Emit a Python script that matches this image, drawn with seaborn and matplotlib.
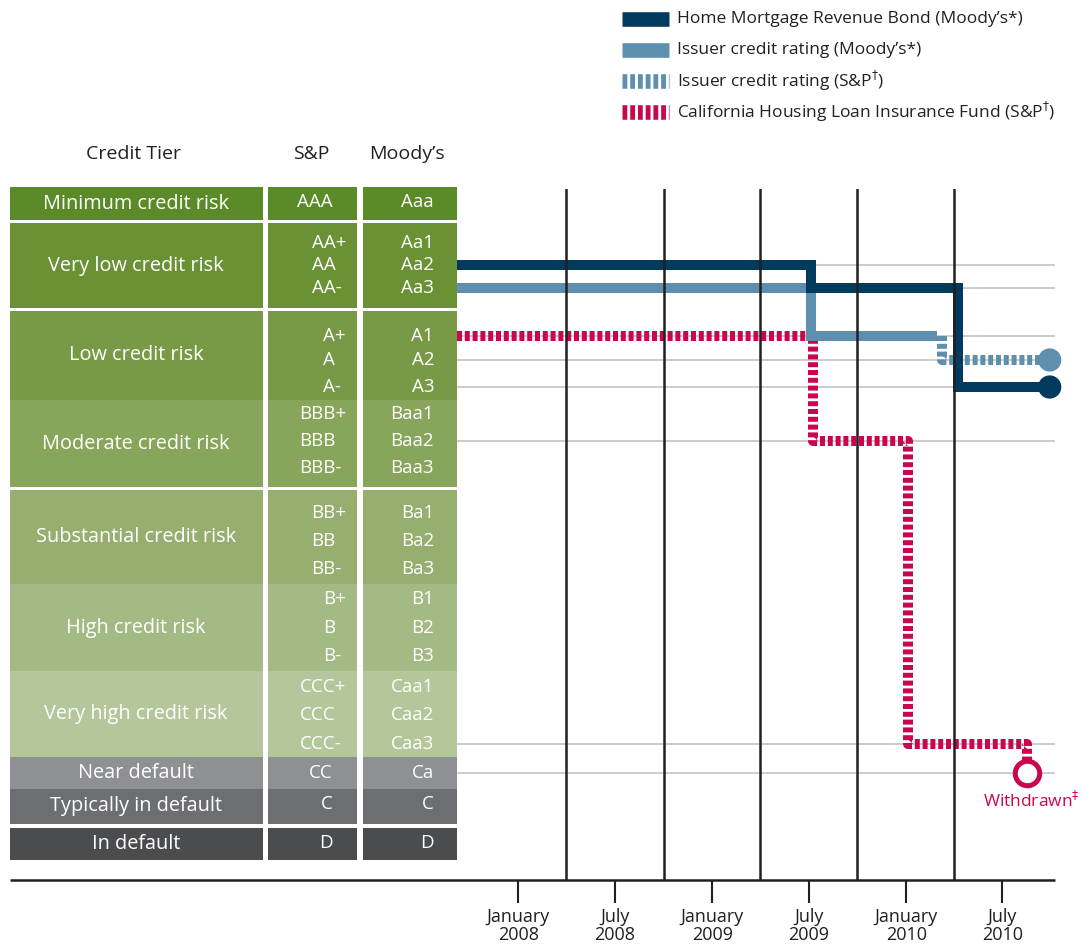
import matplotlib.pyplot as plt
import matplotlib.dates as mdates
import matplotlib.ticker as mticker
import pandas as pd
import seaborn as sns

# credit tiers and the notches of each agency inside them
TIERS = ["Minimum credit risk", "Very low credit risk", "Low credit risk",
         "Moderate credit risk", "Substantial credit risk", "High credit risk",
         "Very high credit risk", "Near default", "Typically in default", "In default"]
SP = [["AAA"], ["AA+", "AA", "AA-"], ["A+", "A", "A-"], ["BBB+", "BBB", "BBB-"],
      ["BB+", "BB", "BB-"], ["B+", "B", "B-"], ["CCC+", "CCC", "CCC-"],
      ["CC"], ["C"], ["D"]]
MOODYS = [["Aaa"], ["Aa1", "Aa2", "Aa3"], ["A1", "A2", "A3"], ["Baa1", "Baa2", "Baa3"],
          ["Ba1", "Ba2", "Ba3"], ["B1", "B2", "B3"], ["Caa1", "Caa2", "Caa3"],
          ["Ca"], ["C"], ["D"]]

# rating histories (date the rating took effect, rating)
HMRB_DATES = ["2007-09-08", "2009-07-06", "2010-04-08", "2010-09-28"]
HMRB_RATINGS = ["Aa2", "Aa3", "A3", "A3"]
ISSUER_MOODYS_DATES = ["2007-09-08", "2009-07-06", "2010-02-28"]
ISSUER_MOODYS_RATINGS = ["Aa3", "A1", "A1"]
ISSUER_SP_DATES = ["2010-03-09", "2010-03-09", "2010-09-28"]
ISSUER_SP_RATINGS = ["A+", "A", "A"]
CHLIF_DATES = ["2007-09-08", "2009-07-09", "2010-01-04", "2010-08-16", "2010-08-16"]
CHLIF_RATINGS = ["A+", "BBB", "CCC-", "CCC-", "CC"]

# quarter separators drawn across the timeline
QUARTER_LINES = ["2008-04-01", "2008-10-01", "2009-04-01", "2009-10-01", "2010-04-01"]

LEGEND_LABELS = ["Home Mortgage Revenue Bond (Moody’s*)",
                 "Issuer credit rating (Moody’s*)",
                 "Issuer credit rating (S&P$^{\\dagger}$)",
                 "California Housing Loan Insurance Fund (S&P$^{\\dagger}$)"]

# ---- layout (figure pixels) ----
TIER_ROWS = [(187, 220), (223, 308), (311, 400), (400, 487), (490, 584),
             (584, 671), (671, 757), (757, 789), (789, 824), (828, 860)]
NOTCH_Y = [[202], [243, 265, 288], [336, 360, 387], [414, 441, 468],
           [513, 541, 569], [599, 628, 656], [687, 715, 744], [773], [804], [843]]
TIER_COLORS = ["#5B8A29", "#6A9234", "#789A47", "#87A55B", "#96AE6E",
               "#A4BA84", "#B4C79A", "#8F9094", "#6D6E72", "#4B4C4E"]
NAVY, STEEL, CRIMSON, INK = "#003A5D", "#5E8FAE", "#C8074F", "#231F20"

rating_y = {}
for sp_group, m_group, ys in zip(SP, MOODYS, NOTCH_Y):
    for s, m, y in zip(sp_group, m_group, ys):
        rating_y[s] = y
        rating_y[m] = y

frames = []
for name, dates, ratings in [("hmrb", HMRB_DATES, HMRB_RATINGS),
                             ("issuer_moodys", ISSUER_MOODYS_DATES, ISSUER_MOODYS_RATINGS),
                             ("issuer_sp", ISSUER_SP_DATES, ISSUER_SP_RATINGS),
                             ("chlif", CHLIF_DATES, CHLIF_RATINGS)]:
    frames.append(pd.DataFrame({"series": name, "date": pd.to_datetime(dates),
                                "rating": ratings}))
df = pd.concat(frames, ignore_index=True)
df["y"] = df["rating"].map(rating_y)

sns.set_style("white")
plt.rcParams["font.family"] = ["Open Sans", "DejaVu Sans"]

fig = plt.figure(figsize=(10.9, 9.49), dpi=100)
bg = fig.add_axes([0, 0, 1, 1])
bg.set_xlim(0, 1090)
bg.set_ylim(949, 0)
bg.axis("off")

# ---- rating table ----
cols = [(10, 263), (268, 357), (363, 457)]
r = fig.canvas.get_renderer()
for tier, sp_group, m_group, (top, bot), ys, c in zip(
        TIERS, SP, MOODYS, TIER_ROWS, NOTCH_Y, TIER_COLORS):
    for x0, x1 in cols:
        bg.add_patch(plt.Rectangle((x0, top), x1 - x0, bot - top, color=c, lw=0))
    bg.text(136, (top + bot) / 2, tier, ha="center", va="center",
            color="white", fontsize=14.3)
    for lab, y in zip(m_group, ys):
        bg.text(434, y, lab, ha="right", va="center", color="white", fontsize=13.5)
    if len(sp_group) == 1:
        bg.text(333, ys[0], sp_group[0], ha="right", va="center",
                color="white", fontsize=13.5)
    else:
        first = bg.text(346, ys[0], sp_group[0], ha="right", va="center",
                        color="white", fontsize=13.5)
        left = first.get_window_extent(r).x0
        first.set_ha("left")
        first.set_x(left)
        for lab, y in zip(sp_group[1:], ys[1:]):
            bg.text(left, y, lab, ha="left", va="center", color="white", fontsize=13.5)

for x, head in [(133, "Credit Tier"), (311, "S&P"), (407, "Moody’s")]:
    bg.text(x, 154, head, ha="center", va="center", color=INK, fontsize=14)

# baseline under the whole graphic
bg.plot([10, 1055], [880, 880], color=INK, lw=1.8, solid_capstyle="butt")

# ---- legend ----
legend_styles = [(NAVY, "-"), (STEEL, "-"), (STEEL, (0, (0.33, 0.2))),
                 (CRIMSON, (0, (0.33, 0.2)))]
for i, (lab, (c, ls)) in enumerate(zip(LEGEND_LABELS, legend_styles)):
    y = 19 + i * 31
    bg.plot([622, 669], [y, y], color=c, lw=10.5, ls=ls,
            solid_capstyle="butt", dash_capstyle="butt")
    bg.text(677, y, lab, ha="left", va="center", color=INK, fontsize=12.5)

# ---- rating timeline ----
ax = fig.add_axes([457 / 1090, (949 - 880) / 949, 598 / 1090, 691 / 949])
ax.patch.set_alpha(0)

for lvl in sorted(df["y"].unique()):
    ax.axhline(lvl, color="#BDBDBD", lw=1.1, zorder=0.5)

styles = {
    "chlif": dict(color=CRIMSON, linestyle=(0, (0.5, 0.28)), zorder=1.6),
    "issuer_moodys": dict(color=STEEL, linestyle="-", zorder=1.7),
    "issuer_sp": dict(color=STEEL, linestyle=(0, (0.5, 0.28)), zorder=1.7),
    "hmrb": dict(color=NAVY, linestyle="-", zorder=1.9),
}
for name, st in styles.items():
    sns.lineplot(data=df[df["series"] == name], x="date", y="y", ax=ax,
                 estimator=None, sort=False, drawstyle="steps-post",
                 linewidth=7.2, solid_joinstyle="miter", solid_capstyle="butt",
                 dash_capstyle="butt", legend=False, **st)

ends = df.groupby("series").tail(1)
solid_ends = ends[ends["series"].isin(["hmrb", "issuer_sp"])]
sns.scatterplot(data=solid_ends, x="date", y="y", hue="series",
                palette={"hmrb": NAVY, "issuer_sp": STEEL}, s=280, linewidth=0,
                ax=ax, legend=False, zorder=4, clip_on=False)
withdrawn = ends[ends["series"] == "chlif"]
sns.scatterplot(data=withdrawn, x="date", y="y", s=310, color="white",
                edgecolor=CRIMSON, linewidth=3.6, ax=ax, legend=False, zorder=4,
                clip_on=False)
ax.annotate("Withdrawn$^{\\ddagger}$", (withdrawn["date"].iloc[0], withdrawn["y"].iloc[0]),
            xytext=(3, -20), textcoords="offset points", ha="center", va="center",
            color=CRIMSON, fontsize=12.5)

ax.set_xlim(pd.Timestamp("2007-09-08"), pd.Timestamp("2010-10-08"))
ax.set_ylim(880, 189)
ax.set_yticks([])
ax.set_xlabel("")
ax.set_ylabel("")
for sp in ax.spines.values():
    sp.set_visible(False)

ax.xaxis.set_major_locator(mdates.MonthLocator(bymonth=[1, 7]))
ax.xaxis.set_major_formatter(mdates.DateFormatter("%B\n%Y"))
ax.xaxis.set_minor_locator(mticker.FixedLocator(mdates.date2num(pd.to_datetime(QUARTER_LINES))))
ax.grid(True, which="minor", axis="x", color=INK, lw=1.8)
ax.grid(False, which="major")
ax.set_axisbelow(False)
ax.tick_params(which="major", axis="x", bottom=True, direction="out", length=16.5,
               width=1.5, color=INK, pad=3.5, labelsize=13, labelcolor=INK)
ax.tick_params(which="minor", axis="x", bottom=True, length=0)

fig.canvas.draw()
for t in ax.get_xticklabels():
    t.set_linespacing(1.05)

fig.savefig("out.png", dpi=100)
